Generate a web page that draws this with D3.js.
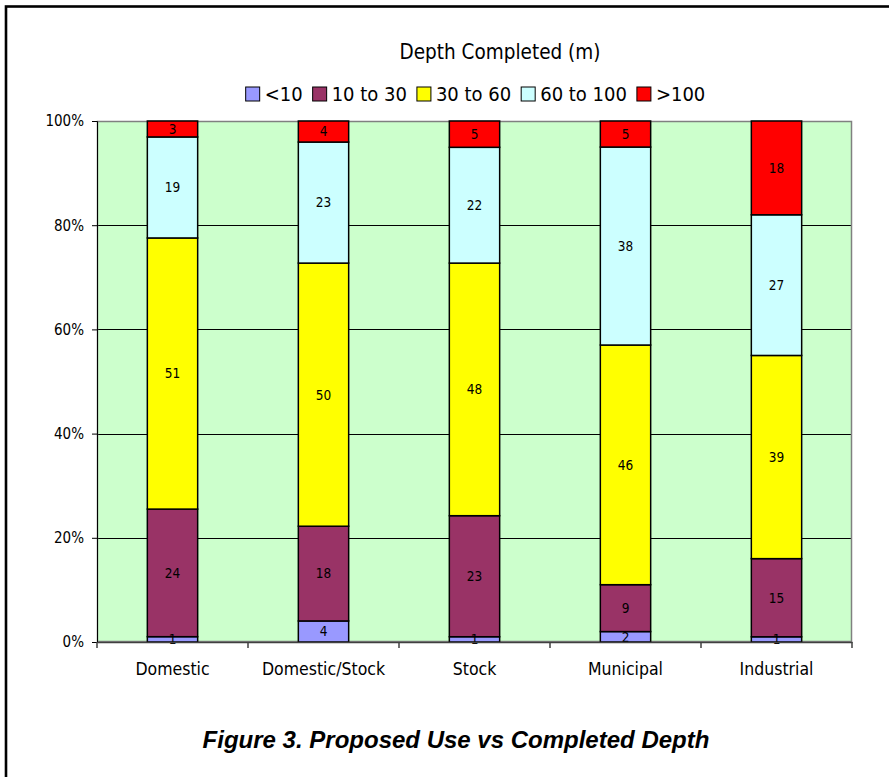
<!DOCTYPE html>
<html><head><meta charset="utf-8">
<script src="https://cdn.jsdelivr.net/npm/d3@7"></script>
<style>
html,body{margin:0;padding:0;background:#fff;}
svg{display:block;}
</style></head>
<body>
<script>
const categories = ["Domestic", "Domestic/Stock", "Stock", "Municipal", "Industrial"];
const seriesNames = ["<10", "10 to 30", "30 to 60", "60 to 100", ">100"];
const seriesColors = ["#9999FF", "#993366", "#FFFF00", "#CCFFFF", "#FF0000"];
const vLt10 = [1, 4, 1, 2, 1];
const v10to30 = [24, 18, 23, 9, 15];
const v30to60 = [51, 50, 48, 46, 39];
const v60to100 = [19, 23, 22, 38, 27];
const vGt100 = [3, 4, 5, 5, 18];
const yTicks = [0, 0.2, 0.4, 0.6, 0.8, 1];
const chartTitle = "Depth Completed (m)";
const caption = "Figure 3. Proposed Use vs Completed Depth";

const W = 889, H = 777;
const font = "'DejaVu Sans Condensed', 'DejaVu Sans', sans-serif";
const svg = d3.select("body").append("svg").attr("width", W).attr("height", H);

// outer frame
svg.append("rect").attr("x", 6).attr("y", 6.5).attr("width", 900).attr("height", 800)
  .attr("fill", "none").attr("stroke", "#000").attr("stroke-width", 2.6);

const plot = {l: 97, t: 121, r: 852, b: 642};
const x = d3.scaleBand().domain(categories).range([plot.l, plot.r]).paddingInner(2/3).paddingOuter(1/3);
const y = d3.scaleLinear().domain([0, 1]).range([plot.b, plot.t]);

const seriesArrays = [vLt10, v10to30, v30to60, v60to100, vGt100];
const rows = categories.map((c, i) => {
  const r = {cat: c};
  seriesNames.forEach((s, k) => r[s] = seriesArrays[k][i]);
  return r;
});
const stacked = d3.stack().keys(seriesNames).offset(d3.stackOffsetExpand)(rows);

// plot background
svg.append("rect").attr("x", plot.l).attr("y", plot.t).attr("width", plot.r - plot.l).attr("height", plot.b - plot.t)
  .attr("fill", "#CCFFCC");

// gridlines
svg.append("g").selectAll("line").data(yTicks.filter(t => t > 0 && t < 1)).join("line")
  .attr("x1", plot.l).attr("x2", plot.r)
  .attr("y1", d => Math.round(y(d)) + 0.5).attr("y2", d => Math.round(y(d)) + 0.5)
  .attr("stroke", "#000").attr("stroke-width", 1);

// plot border (gray)
svg.append("rect").attr("x", plot.l + 0.5).attr("y", plot.t + 0.5).attr("width", plot.r - plot.l - 1).attr("height", plot.b - plot.t - 1)
  .attr("fill", "none").attr("stroke", "#808080").attr("stroke-width", 1.5);

// bars
const g = svg.append("g");
stacked.forEach((layer, k) => {
  g.selectAll(null).data(layer).join("rect")
    .attr("x", d => x(d.data.cat))
    .attr("y", d => y(d[1]))
    .attr("width", x.bandwidth())
    .attr("height", d => y(d[0]) - y(d[1]))
    .attr("fill", seriesColors[k])
    .attr("stroke", "#000").attr("stroke-width", 1.5);
});
// data labels
stacked.forEach((layer, k) => {
  g.selectAll(null).data(layer).join("text")
    .attr("x", d => x(d.data.cat) + x.bandwidth() / 2)
    .attr("y", d => (y(d[0]) + y(d[1])) / 2)
    .attr("dy", "0.36em")
    .attr("text-anchor", "middle")
    .attr("font-family", font).attr("font-size", 13.5)
    .attr("fill", "#000")
    .text(d => d.data[seriesNames[k]]);
});

// y axis
const yAxis = d3.axisLeft(y).tickValues(yTicks).tickFormat(d3.format(".0%")).tickSize(5).tickPadding(8);
const ya = svg.append("g").attr("transform", `translate(${plot.l},0)`).call(yAxis);
ya.select(".domain").attr("stroke", "#000");
ya.selectAll(".tick line").attr("stroke", "#000");
ya.selectAll("text").attr("font-family", font).attr("font-size", 15).attr("fill", "#000");

// x axis
const xAxis = d3.axisBottom(x).tickSize(0).tickPadding(21);
const xa = svg.append("g").attr("transform", `translate(0,${plot.b})`).call(xAxis);
xa.select(".domain").attr("stroke", "#404040").attr("stroke-width", 1.5);
xa.selectAll("text").attr("font-family", font).attr("font-size", 17.5).attr("fill", "#000");
// category boundary ticks
const bounds = d3.range(categories.length + 1).map(i => plot.l + i * (plot.r - plot.l) / categories.length);
xa.selectAll(".btick").data(bounds).join("line").attr("class", "btick")
  .attr("x1", d => d).attr("x2", d => d).attr("y1", 0).attr("y2", 6)
  .attr("stroke", "#404040").attr("stroke-width", 1.5);

// title
svg.append("text").attr("x", 500).attr("y", 59).attr("text-anchor", "middle")
  .attr("font-family", font).attr("font-size", 20.5).attr("fill", "#000").text(chartTitle);

// legend
const leg = svg.append("g");
const items = [];
seriesNames.forEach((s, k) => {
  const it = leg.append("g");
  it.append("rect").attr("x", 0).attr("y", -14).attr("width", 14).attr("height", 14)
    .attr("fill", seriesColors[k]).attr("stroke", "#000").attr("stroke-width", 1);
  const t = it.append("text").attr("x", 19).attr("y", 0).attr("font-family", font).attr("font-size", 20)
    .attr("fill", "#000").text(s);
  const w = 19 + t.node().getComputedTextLength();
  items.push({it, w});
});
const gap = 10;
const total = d3.sum(items, d => d.w) + gap * (items.length - 1);
let cx = 475.5 - total / 2;
items.forEach(d => { d.it.attr("transform", `translate(${cx},101)`); cx += d.w + gap; });

// caption
svg.append("text").attr("x", 456).attr("y", 748).attr("text-anchor", "middle")
  .attr("font-family", "'Liberation Sans', Arial, sans-serif").attr("font-weight", "bold").attr("font-style", "italic")
  .attr("font-size", 24).attr("fill", "#000").text(caption);
</script>
</body></html>
